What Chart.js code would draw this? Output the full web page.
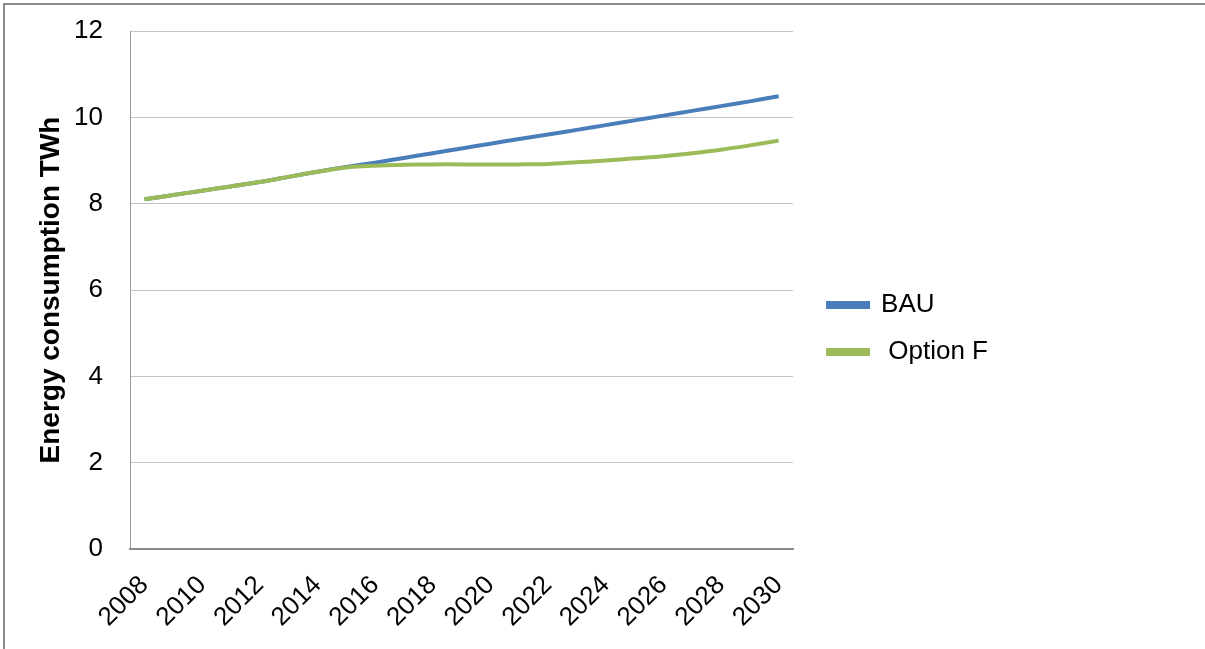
<!DOCTYPE html>
<html>
<head>
<meta charset="utf-8">
<title>Energy consumption</title>
<script src="https://cdn.jsdelivr.net/npm/chart.js@4.4.1/dist/chart.umd.min.js"></script>
<style>
    html, body { margin: 0; padding: 0; background: #fff; }
    .wrap { position: relative; width: 1205px; height: 649px; }
    .frame {
        position: absolute; left: 3px; top: 3px; right: -10px; bottom: -10px;
        border-top: 2px solid #8a8a8a; border-left: 2px solid #8a8a8a;
        pointer-events: none;
    }
</style>
</head>
<body>
<div class="wrap">
    <canvas id="energyChart" width="1205" height="649"></canvas>
    <div class="frame"></div>
</div>
<script>
// Yearly energy consumption, TWh
const years = ['2008', '2009', '2010', '2011', '2012', '2013', '2014', '2015', '2016', '2017', '2018',
    '2019', '2020', '2021', '2022', '2023', '2024', '2025', '2026', '2027', '2028', '2029', '2030'];
const bau = [8.10, 8.20, 8.30, 8.40, 8.50, 8.62, 8.74, 8.85, 8.95, 9.06, 9.17,
    9.28, 9.39, 9.50, 9.60, 9.71, 9.82, 9.93, 10.04, 10.15, 10.26, 10.37, 10.49];
const optionF = [8.10, 8.20, 8.30, 8.40, 8.50, 8.62, 8.74, 8.84, 8.88, 8.90, 8.91,
    8.91, 8.91, 8.91, 8.92, 8.96, 9.00, 9.05, 9.10, 9.17, 9.25, 9.35, 9.46];
const yTicks = [0, 2, 4, 6, 8, 10, 12];

const font = "'Liberation Sans', Arial, sans-serif";

new Chart(document.getElementById('energyChart'), {
    type: 'line',
    data: {
        labels: years,
        datasets: [{
            label: 'BAU',
            data: bau,
            borderColor: '#4a7ebb',
            backgroundColor: '#4a7ebb',
            borderWidth: 4,
            pointRadius: 0,
            tension: 0.3,
            order: 1
        }, {
            label: ' Option F',
            data: optionF,
            borderColor: '#9bbb59',
            backgroundColor: '#9bbb59',
            borderWidth: 4,
            pointRadius: 0,
            tension: 0.3,
            order: 0
        }]
    },
    options: {
        responsive: false,
        animation: false,
        layout: {
            padding: { left: 34, right: 207, top: 8, bottom: 0 }
        },
        plugins: {
            legend: {
                position: 'right',
                maxWidth: 230,
                labels: {
                    color: '#000',
                    font: { family: font, size: 26 },
                    boxWidth: 40,
                    boxHeight: 4,
                    padding: 21,
                    sort: (a, b) => a.datasetIndex - b.datasetIndex
                }
            },
            tooltip: { enabled: false }
        },
        scales: {
            x: {
                offset: true,
                grid: { display: false, drawTicks: false },
                border: { color: '#8a8a8a', width: 2 },
                ticks: {
                    autoSkip: false,
                    maxRotation: 45,
                    minRotation: 45,
                    padding: 21,
                    color: '#000',
                    font: { family: font, size: 26 },
                    callback: (val, i) => (i % 2 === 0 ? years[i] : '')
                },
                afterFit: (scale) => { scale.height = 100; }
            },
            y: {
                min: 0,
                max: 12,
                afterBuildTicks: (scale) => {
                    scale.ticks = yTicks.map(v => ({ value: v }));
                },
                grid: { color: '#c4c4c4', drawTicks: false },
                border: { color: '#9a9a9a', width: 1 },
                ticks: {
                    padding: 27,
                    color: '#000',
                    font: { family: font, size: 26 }
                },
                title: {
                    display: true,
                    text: 'Energy consumption TWh',
                    color: '#000',
                    font: { family: font, size: 28, weight: 'bold' },
                    padding: { top: 0, bottom: 8 }
                },
                // tick padding is counted twice in the default width
                afterFit: (scale) => {
                    scale.width = 96;
                    scale.paddingTop = 31;
                }
            },
            // empty axis, only keeps a gap between the plot and the legend
            gap: {
                type: 'linear',
                position: 'right',
                display: true,
                grid: { display: false, drawTicks: false },
                border: { display: false },
                ticks: { display: false },
                afterFit: (scale) => { scale.width = 14; }
            }
        }
    }
});
</script>
</body>
</html>
